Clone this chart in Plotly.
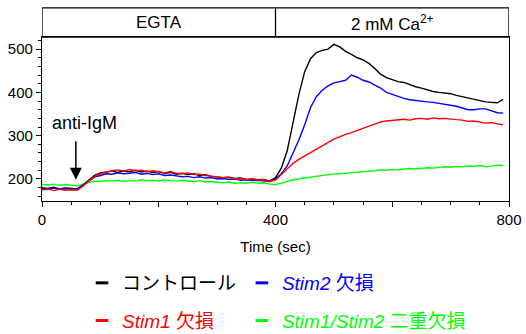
import plotly.graph_objects as go

time_sec = list(range(0, 800, 10))

control = [180, 178, 181, 177, 179, 178, 177, 186, 198, 208,
           214, 216, 218, 215, 219, 217, 220, 216, 218, 215,
           217, 213, 215, 211, 213, 210, 212, 208, 210, 206,
           205, 203, 204, 201, 202, 199, 200, 198, 199, 195,
           203, 225, 265, 330, 395, 448, 478, 492, 497, 500,
           511, 505, 495, 488, 480, 475, 467, 455, 442, 434,
           430, 425, 423, 418, 413, 410, 406, 402, 400, 399,
           397, 393, 390, 387, 384, 381, 378, 377, 376, 384]

stim2 = [178, 176, 179, 177, 178, 176, 177, 184, 195, 204,
         208, 212, 211, 214, 212, 213, 215, 211, 213, 210,
         212, 208, 209, 207, 205, 206, 203, 205, 202, 203,
         200, 201, 199, 200, 197, 198, 196, 197, 195, 194,
         200, 212, 230, 258, 290, 325, 365, 390, 405, 415,
         422, 425, 428, 440, 435, 428, 424, 417, 410, 400,
         395, 390, 386, 383, 381, 379, 378, 377, 375, 373,
         371, 368, 364, 360, 360, 362, 362, 358, 353, 352]

stim1 = [175, 177, 173, 176, 174, 175, 174, 183, 195, 206,
         212, 216, 219, 221, 218, 222, 219, 220, 217, 219,
         216, 214, 217, 213, 212, 214, 210, 211, 208, 206,
         205, 203, 204, 200, 201, 198, 200, 197, 198, 194,
         197, 210, 225, 236, 245, 253, 262, 270, 277, 285,
         292, 297, 303, 307, 312, 318, 322, 327, 332, 334,
         335, 336, 338, 336, 339, 340, 338, 341, 339, 340,
         338, 337, 336, 333, 334, 331, 329, 330, 327, 325]

double_ko = [187, 186, 188, 185, 187, 186, 184, 188, 192, 195,
             194, 196, 195, 197, 194, 196, 195, 198, 196, 197,
             195, 198, 196, 195, 197, 195, 194, 196, 193, 194,
             192, 191, 193, 190, 191, 190, 192, 190, 191, 188,
             187, 190, 194, 198, 200, 203, 205, 207, 208, 210,
             211, 212, 213, 215, 216, 217, 218, 219, 221, 220,
             222, 221, 223, 224, 223, 225, 226, 225, 227, 228,
             227, 229, 228, 230, 229, 231, 228, 230, 232, 231]

series_names = ["コントロール", "<i>Stim2</i> 欠損", "<i>Stim1</i> 欠損", "<i>Stim1/Stim2</i> 二重欠損"]
series_colors = ["#000000", "#0000ff", "#ff0000", "#00ff00"]
series_values = [control, stim2, stim1, double_ko]
legend_ids = ["legend", "legend2", "legend3", "legend4"]

x_tickvals = [0, 200, 400, 600, 800]
x_ticktext = ["0", "", "400", "", "800"]
y_tickvals = [200, 300, 400, 500]

FONT = "Arial, 'Liberation Sans', 'Noto Sans CJK JP', sans-serif"

fig = go.Figure()

draw_order = [3, 0, 1, 2]
for i in draw_order:
    fig.add_trace(go.Scatter(
        x=time_sec, y=series_values[i], mode="lines",
        line=dict(color=series_colors[i], width=1.4),
        showlegend=False, hoverinfo="skip"))

for i in range(4):
    fig.add_trace(go.Scatter(
        x=[None], y=[None], mode="markers",
        marker=dict(symbol="line-ew", size=9,
                    line=dict(color=series_colors[i], width=3)),
        name=f"<span style='color:{series_colors[i]}'>{series_names[i]}</span>",
        legend=legend_ids[i]))

# header boxes
fig.add_shape(type="rect", xref="x", yref="paper", x0=0, x1=800, y0=1, y1=1.177,
              line=dict(color="black", width=1.3))
fig.add_shape(type="line", xref="x", yref="paper", x0=400, x1=400, y0=1, y1=1.177,
              line=dict(color="black", width=1.3))
fig.add_annotation(xref="x", yref="paper", x=200, y=1.088, text="EGTA",
                   xanchor="center", yanchor="middle",
                   showarrow=False, font=dict(size=17, color="black", family=FONT))
fig.add_annotation(xref="x", yref="paper", x=600, y=1.088, text="2 mM Ca<sup>2+</sup>",
                   xanchor="center", yanchor="middle",
                   showarrow=False, font=dict(size=17, color="black", family=FONT))

# anti-IgM arrow
fig.add_annotation(xref="x", yref="y", x=58, y=198, ax=0, ay=-40, text="",
                   showarrow=True, arrowhead=2, arrowsize=1.6, arrowwidth=1.5,
                   arrowcolor="black")
fig.add_annotation(xref="x", yref="y", x=72, y=329, text="anti-IgM",
                   xanchor="center", yanchor="middle",
                   showarrow=False, font=dict(size=18, color="black", family=FONT))

legend_common = dict(orientation="h", xanchor="left", yanchor="middle",
                     bgcolor="rgba(0,0,0,0)", borderwidth=0,
                     font=dict(size=19, family=FONT, color="black"),
                     itemclick=False, itemdoubleclick=False)

col1_x, col2_x = 0.0857, 0.428
row1_y, row2_y = -0.50, -0.73

fig.update_layout(
    width=526, height=334,
    margin=dict(l=42, r=17, t=37, b=133, autoexpand=False),
    paper_bgcolor="white", plot_bgcolor="white",
    font=dict(family=FONT, color="black", size=15),
    legend=dict(x=col1_x, y=row1_y, **legend_common),
    legend2=dict(x=col2_x, y=row1_y, **legend_common),
    legend3=dict(x=col1_x, y=row2_y, **legend_common),
    legend4=dict(x=col2_x, y=row2_y, **legend_common),
    xaxis=dict(range=[0, 800], showgrid=False, zeroline=False,
               showline=True, linecolor="black", linewidth=1.3, mirror=True,
               ticks="outside", ticklen=5, tickwidth=1.2, tickcolor="black",
               tickvals=x_tickvals, ticktext=x_ticktext,
               tickfont=dict(size=15),
               minor=dict(dtick=50, tick0=0, ticks="outside", ticklen=3,
                          tickwidth=1, tickcolor="black", showgrid=False),
               title=dict(text="Time (sec)", font=dict(size=15), standoff=14)),
    yaxis=dict(range=[149, 528], showgrid=False, zeroline=False,
               showline=True, linecolor="black", linewidth=1.3, mirror=True,
               ticks="outside", ticklen=5, tickwidth=1.2, tickcolor="black",
               tickvals=y_tickvals, tickfont=dict(size=15),
               minor=dict(dtick=20, tick0=0, ticks="outside", ticklen=3,
                          tickwidth=1, tickcolor="black", showgrid=False)),
)

fig.write_html("out.html", config={"displayModeBar": False},
               post_script="document.body.style.margin='0px';")
